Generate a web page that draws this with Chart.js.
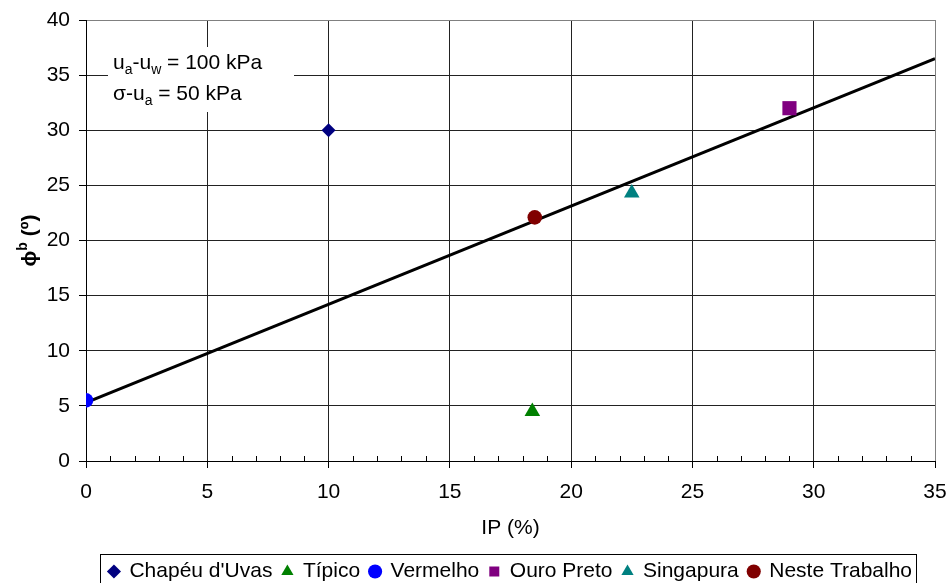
<!DOCTYPE html>
<html>
<head>
<meta charset="utf-8">
<script src="https://cdn.jsdelivr.net/npm/chart.js@4/dist/chart.umd.min.js"></script>
<style>
  html, body { margin: 0; padding: 0; background: #fff; }
</style>
</head>
<body>
<canvas id="chart" width="949" height="583"></canvas>
<script>
// data
const seriesNames = ["Chapéu d'Uvas", "Típico", "Vermelho", "Ouro Preto", "Singapura", "Neste Trabalho"];
const ipValues  = [[10], [18.4], [0], [29], [22.5], [18.5]];
const phiValues = [[30], [4.5], [5.5], [32], [24.3], [22.1]];
const fitIP  = [0, 35];
const fitPhi = [5.3, 36.5];
const xTicks = [0, 5, 10, 15, 20, 25, 30, 35];
const yTicks = [0, 5, 10, 15, 20, 25, 30, 35, 40];

const colors = ['#000080', '#008000', '#0000ff', '#800080', '#008080', '#800000'];
const styles = ['rectRot', 'triangle', 'circle', 'rect', 'triangle', 'circle'];
const radii  = [7, 9, 7.3, 10, 9, 7.3];

const FONT = "'Liberation Sans', Arial, sans-serif";
const FS = 21;

const datasets = seriesNames.map((name, i) => ({
  label: name,
  data: ipValues[i].map((v, k) => ({ x: v, y: phiValues[i][k] })),
  pointStyle: styles[i],
  pointRadius: radii[i],
  pointHoverRadius: radii[i],
  backgroundColor: colors[i],
  borderColor: colors[i],
  borderWidth: 0,
  showLine: false
}));

// trend line
datasets.push({
  label: 'fit',
  data: fitIP.map((v, k) => ({ x: v, y: fitPhi[k] })),
  showLine: true,
  borderColor: '#000',
  borderWidth: 3,
  pointRadius: 0,
  fill: false
});

// draws text made of runs, with sub / superscripts
function drawRuns(ctx, runs, x, y, size, bold) {
  let cx = x;
  runs.forEach(r => {
    const s = (r.sub || r.sup) ? Math.round(size * 0.65) : size;
    ctx.font = (bold ? 'bold ' : '') + s + 'px ' + FONT;
    const dy = r.sub ? 5 : (r.sup ? -9 : 0);
    ctx.fillText(r.t, cx, y + dy);
    cx += ctx.measureText(r.t).width;
  });
  return cx - x;
}
function runsWidth(ctx, runs, size, bold) {
  let w = 0;
  runs.forEach(r => {
    const s = (r.sub || r.sup) ? Math.round(size * 0.65) : size;
    ctx.font = (bold ? 'bold ' : '') + s + 'px ' + FONT;
    w += ctx.measureText(r.t).width;
  });
  return w;
}

const extras = {
  id: 'extras',
  beforeDatasetsDraw(chart) {
    const { ctx, chartArea: a, scales: { x } } = chart;
    ctx.save();
    // minor ticks on the x axis
    ctx.strokeStyle = '#000';
    ctx.lineWidth = 1;
    ctx.beginPath();
    for (let v = x.min; v <= x.max; v++) {
      if (v % 5 === 0) continue;
      const px = Math.round(x.getPixelForValue(v)) + 0.5;
      ctx.moveTo(px, a.bottom);
      ctx.lineTo(px, a.bottom - 5);
    }
    ctx.stroke();

    // note box
    const bx = a.left + 22, by = a.top + 27;
    ctx.fillStyle = '#fff';
    ctx.fillRect(bx, by, 186, 65);
    ctx.fillStyle = '#000';
    ctx.textBaseline = 'alphabetic';
    ctx.textAlign = 'left';
    drawRuns(ctx, [{ t: 'u' }, { t: 'a', sub: true }, { t: '-u' }, { t: 'w', sub: true }, { t: ' = 100 kPa' }], bx + 5, by + 22, FS);
    drawRuns(ctx, [{ t: 'σ-u' }, { t: 'a', sub: true }, { t: ' = 50 kPa' }], bx + 5, by + 53, FS);
    ctx.restore();
  },
  afterDraw(chart) {
    const { ctx, chartArea: a } = chart;
    ctx.save();
    // y axis title with superscript
    const runs = [{ t: 'ϕ' }, { t: 'b', sup: true }, { t: ' (º)' }];
    ctx.translate(36, (a.top + a.bottom) / 2);
    ctx.rotate(-Math.PI / 2);
    ctx.fillStyle = '#000';
    ctx.textBaseline = 'alphabetic';
    ctx.textAlign = 'left';
    const w = runsWidth(ctx, runs, FS, true);
    drawRuns(ctx, runs, -w / 2, 0, FS, true);
    ctx.restore();

    // legend frame
    const boxes = chart.legend.legendHitBoxes;
    if (boxes && boxes.length) {
      const left = Math.min(...boxes.map(b => b.left)) - 9;
      const right = Math.max(...boxes.map(b => b.left + b.width)) + 4;
      const top = boxes[0].top - 7;
      ctx.save();
      ctx.strokeStyle = '#000';
      ctx.lineWidth = 1;
      ctx.strokeRect(Math.round(left) + 0.5, Math.round(top) + 0.5, Math.round(right - left), 60);
      ctx.restore();
    }
  }
};

new Chart(document.getElementById('chart'), {
  type: 'scatter',
  data: { datasets },
  plugins: [extras],
  options: {
    responsive: false,
    animation: false,
    layout: { padding: { left: 0, right: 14, top: 20, bottom: -9 } },
    plugins: {
      tooltip: { enabled: false },
      legend: {
        position: 'bottom',
        fullSize: false,
        labels: {
          usePointStyle: true,
          boxWidth: 10,
          boxHeight: 10,
          padding: 10,
          color: '#000',
          font: { family: FONT, size: FS },
          filter: item => item.text !== 'fit'
        }
      }
    },
    scales: {
      x: {
        type: 'linear',
        min: xTicks[0],
        max: xTicks[xTicks.length - 1],
        afterBuildTicks: s => { s.ticks = xTicks.map(v => ({ value: v })); },
        afterFit: s => { s.height = 90; s.paddingLeft = 0; s.paddingRight = 0; },
        border: { color: '#000', width: 1 },
        grid: {
          color: c => (c.tick && c.tick.value === xTicks[xTicks.length - 1]) ? '#808080' : '#222',
          tickColor: '#000',
          tickLength: 7
        },
        ticks: { color: '#000', font: { family: FONT, size: FS }, padding: 12, maxRotation: 0 },
        title: { display: true, text: 'IP (%)', color: '#000', font: { family: FONT, size: FS }, padding: { top: 0, bottom: 10 } }
      },
      y: {
        type: 'linear',
        min: yTicks[0],
        max: yTicks[yTicks.length - 1],
        afterBuildTicks: s => { s.ticks = yTicks.map(v => ({ value: v })); },
        afterFit: s => { s.width = 86; s.paddingTop = 0; s.paddingBottom = 0; },
        border: { color: '#000', width: 1 },
        grid: {
          color: c => (c.tick && c.tick.value === yTicks[yTicks.length - 1]) ? '#808080' : '#222',
          tickColor: '#000',
          tickLength: 7
        },
        ticks: { color: '#000', font: { family: FONT, size: FS }, padding: 9 }
      }
    }
  }
});
</script>
</body>
</html>
